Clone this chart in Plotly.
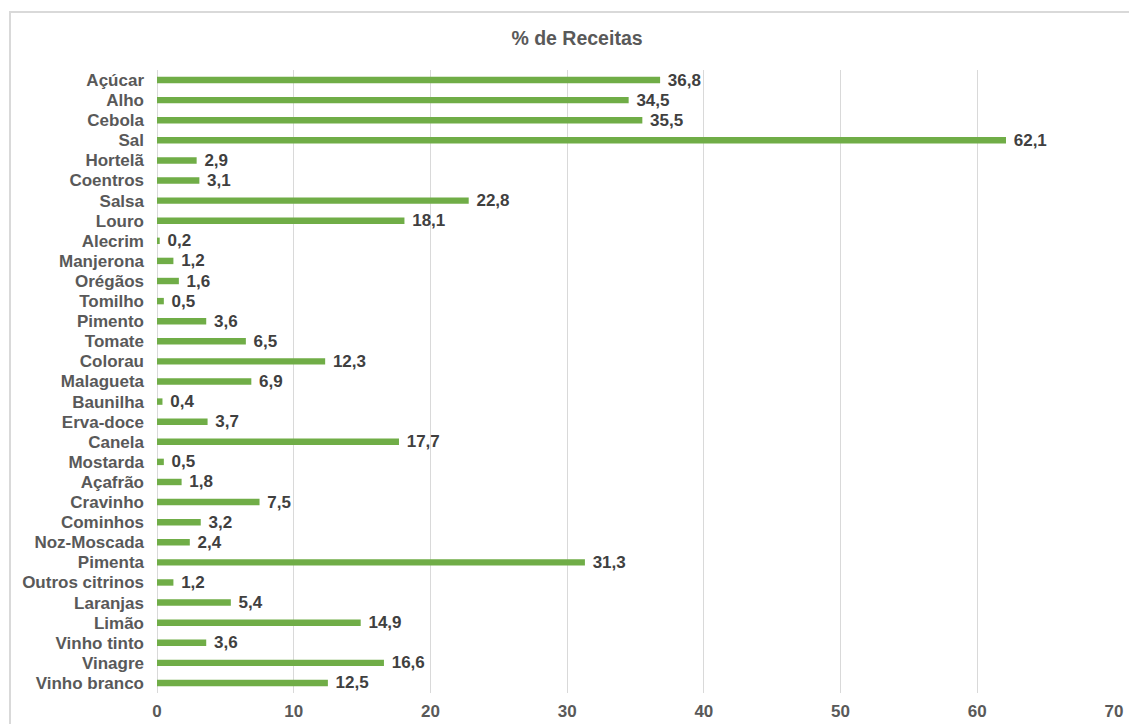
import plotly.graph_objects as go

categories = ["Açúcar", "Alho", "Cebola", "Sal", "Hortelã", "Coentros", "Salsa", "Louro",
              "Alecrim", "Manjerona", "Orégãos", "Tomilho", "Pimento", "Tomate", "Colorau",
              "Malagueta", "Baunilha", "Erva-doce", "Canela", "Mostarda", "Açafrão", "Cravinho",
              "Cominhos", "Noz-Moscada", "Pimenta", "Outros citrinos", "Laranjas", "Limão",
              "Vinho tinto", "Vinagre", "Vinho branco"]
values = [36.8, 34.5, 35.5, 62.1, 2.9, 3.1, 22.8, 18.1,
          0.2, 1.2, 1.6, 0.5, 3.6, 6.5, 12.3,
          6.9, 0.4, 3.7, 17.7, 0.5, 1.8, 7.5,
          3.2, 2.4, 31.3, 1.2, 5.4, 14.9,
          3.6, 16.6, 12.5]
x_ticks = [0, 10, 20, 30, 40, 50, 60, 70]

W, H = 1129, 724
ml, mr, mt, mb = 157, 15, 70, 31
pw, ph = W - ml - mr, H - mt - mb
FONT = "Liberation Sans, Arial"

def px_x(p):
    return (p - ml) / pw

def px_y(p):
    return (H - mb - p) / ph

fig = go.Figure(go.Bar(
    y=categories,
    x=values,
    orientation="h",
    marker=dict(color="#70AD47", line=dict(width=0)),
    width=0.32,
    text=["\u00a0" + f"{v:.1f}".replace(".", ",") for v in values],
    textposition="outside",
    constraintext="none",
    textfont=dict(family=FONT, size=17, color="#404040", weight="bold"),
    cliponaxis=False,
))

fig.update_layout(
    width=W, height=H,
    margin=dict(l=ml, r=mr, t=mt, b=mb, autoexpand=False),
    paper_bgcolor="white",
    plot_bgcolor="white",
    showlegend=False,
    uniformtext=dict(mode=False),
    title=dict(text="<b>% de Receitas</b>", x=577 / W, xanchor="center",
               y=1 - 38 / H, yanchor="middle",
               font=dict(family=FONT, size=19.5, color="#595959")),
    font=dict(family=FONT, size=17, color="#595959"),
    xaxis=dict(range=[0, 70], tickvals=x_ticks, showgrid=True, gridcolor="#D9D9D9",
               gridwidth=1, zeroline=True, zerolinecolor="#D9D9D9", zerolinewidth=1,
               showline=False, ticks="", ticklabelstandoff=6, automargin=False,
               tickfont=dict(family=FONT, size=17, color="#595959", weight="bold"),
               fixedrange=True),
    yaxis=dict(autorange="reversed", showgrid=False, showline=False, ticks="",
               ticklabelstandoff=12, automargin=False,
               tickfont=dict(family=FONT, size=17, color="#595959", weight="bold"),
               fixedrange=True),
    shapes=[dict(type="rect", xref="paper", yref="paper",
                 x0=px_x(10), x1=px_x(1140), y0=px_y(740), y1=px_y(12),
                 line=dict(color="#D9D9D9", width=2), fillcolor="rgba(0,0,0,0)", layer="below")],
)

fig.write_html("out.html")
